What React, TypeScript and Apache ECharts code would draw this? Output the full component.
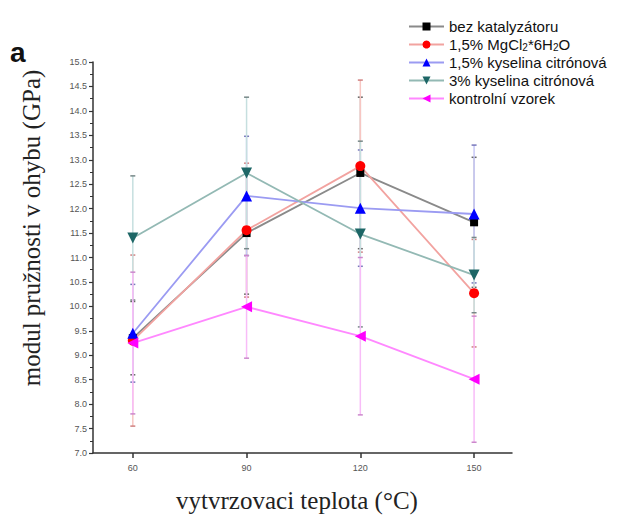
import React, { useEffect, useRef } from "react";
import * as echarts from "echarts";

const temperatures = [60, 90, 120, 150];
const seriesNames = [
  "bez katalyzátoru",
  "1,5% MgCl2*6H2O",
  "1,5% kyselina citrónová",
  "3% kyselina citrónová",
  "kontrolní vzorek",
];
const bezValues = [9.35, 11.5, 12.73, 11.72];
const bezErrors = [0.75, 1.25, 1.55, 1.33];
const mgclValues = [9.3, 11.56, 12.87, 10.27];
const mgclErrors = [1.75, 1.37, 1.76, 1.1];
const kc15Values = [9.45, 12.26, 12.01, 11.89];
const kc15Errors = [1.0, 1.22, 1.19, 1.41];
const kc3Values = [11.4, 12.73, 11.48, 10.64];
const kc3Errors = [1.27, 1.55, 1.9, 0.77];
const kontrolValues = [9.25, 9.99, 9.39, 8.51];
const kontrolErrors = [1.45, 1.05, 1.61, 1.29];

const styles = [
  { marker: "#000000", line: "#8a8a8a", bar: "#bdbdbd", cap: "#666666", symbol: "rect", size: 8 },
  { marker: "#ff0000", line: "#f2a3a0", bar: "#f7c6c2", cap: "#d08080", symbol: "circle", size: 10 },
  { marker: "#0000ff", line: "#9b9bf2", bar: "#c8c8f7", cap: "#7777bb", symbol: "triangle", size: 11 },
  { marker: "#1d6666", line: "#93b9b4", bar: "#c6dfdf", cap: "#778888", symbol: "path://M0,0 L10,0 L5,9 Z", size: 11 },
  { marker: "#ff00ff", line: "#ff88ff", bar: "#f8bcf8", cap: "#cc88cc", symbol: "path://M0,5 L9,0 L9,10 Z", size: 11 },
];

const allValues = [bezValues, mgclValues, kc15Values, kc3Values, kontrolValues];
const allErrors = [bezErrors, mgclErrors, kc15Errors, kc3Errors, kontrolErrors];

export default function App() {
  const ref = useRef<HTMLDivElement>(null);
  useEffect(() => {
    if (!ref.current) return;
    const chart = echarts.init(ref.current, null, { renderer: "svg" });

    const errorSeries = allValues.map((vals, si) => ({
      type: "custom",
      name: "err" + si,
      z: 1,
      silent: true,
      data: temperatures.map((t, i) => [t, vals[i] - allErrors[si][i], vals[i] + allErrors[si][i]]),
      encode: { x: 0, y: [1, 2] },
      renderItem: (params: any, api: any) => {
        const x = api.value(0);
        const lo = api.coord([x, api.value(1)]);
        const hi = api.coord([x, api.value(2)]);
        const st = styles[si];
        return {
          type: "group",
          children: [
            { type: "line", shape: { x1: lo[0], y1: lo[1], x2: hi[0], y2: hi[1] }, style: { stroke: st.bar, lineWidth: 1.5 } },
            { type: "line", shape: { x1: lo[0] - 2.5, y1: lo[1], x2: lo[0] + 2.5, y2: lo[1] }, style: { stroke: st.cap, lineWidth: 1.5 } },
            { type: "line", shape: { x1: hi[0] - 2.5, y1: hi[1], x2: hi[0] + 2.5, y2: hi[1] }, style: { stroke: st.cap, lineWidth: 1.5 } },
          ],
        };
      },
    }));

    const lineSeries = allValues.map((vals, si) => ({
      type: "line",
      name: seriesNames[si],
      z: 3,
      data: temperatures.map((t, i) => [t, vals[i]]),
      symbol: styles[si].symbol,
      symbolSize: styles[si].size,
      itemStyle: { color: styles[si].marker },
      lineStyle: { color: styles[si].line, width: 1.8 },
    }));

    chart.setOption({
      animation: false,
      backgroundColor: "#ffffff",
      grid: { left: 93, right: 131, top: 62, bottom: 63, containLabel: false },
      legend: {
        data: seriesNames,
        orient: "vertical",
        left: 403,
        top: 14,
        itemWidth: 35,
        itemHeight: 10,
        itemGap: 3,
        textStyle: {
          fontFamily: "Liberation Sans",
          fontSize: 15,
          color: "#111",
          rich: {
            sub: { fontFamily: "Liberation Sans", fontSize: 10, color: "#111", verticalAlign: "bottom", lineHeight: 10 },
          },
        },
        formatter: (name: string) =>
          name === "1,5% MgCl2*6H2O" ? "1,5% MgCl{sub|2}*6H{sub|2}O" : name,
      },
      xAxis: {
        type: "value",
        min: 49.5,
        max: 160,
        splitLine: { show: false },
        axisLine: { show: true, onZero: false, lineStyle: { color: "#333", width: 1.5 } },
        axisTick: { show: true, customValues: temperatures, length: 5, lineStyle: { color: "#333", width: 1.5 } },
        axisLabel: {
          customValues: temperatures,
          margin: 10,
          fontSize: 9,
          fontFamily: "Liberation Sans Narrow, Liberation Sans",
          color: "#555",
        },
      },
      yAxis: {
        type: "value",
        min: 7,
        max: 15,
        interval: 0.5,
        splitLine: { show: false },
        axisLine: { show: true, lineStyle: { color: "#333", width: 1.5 } },
        axisTick: { show: true, length: 4, lineStyle: { color: "#333", width: 1.2 } },
        minorTick: { show: true, splitNumber: 2, length: 3, lineStyle: { color: "#333", width: 1 } },
        axisLabel: {
          margin: 6,
          fontSize: 9,
          fontFamily: "Liberation Sans Narrow, Liberation Sans",
          color: "#555",
          formatter: (v: number) => v.toFixed(1),
        },
      },
      graphic: [
        {
          type: "text",
          left: 10,
          top: 38,
          style: { text: "a", font: "bold 28px Liberation Sans", fill: "#111" },
        },
        {
          type: "text",
          x: 31,
          y: 228,
          rotation: Math.PI / 2,
          style: {
            text: "modul pružnosti v ohybu (GPa)",
            font: "25px Liberation Serif",
            fill: "#222",
            textAlign: "center",
            textVerticalAlign: "middle",
          },
        },
        {
          type: "text",
          x: 297,
          y: 500,
          style: {
            text: "vytvrzovaci teplota (°C)",
            font: "25px Liberation Serif",
            fill: "#222",
            textAlign: "center",
            textVerticalAlign: "middle",
          },
        },
      ],
      series: [...errorSeries, ...lineSeries],
    });
    return () => chart.dispose();
  }, []);
  return <div ref={ref} style={{ position: "absolute", left: 0, top: 0, width: 643, height: 516 }} />;
}
